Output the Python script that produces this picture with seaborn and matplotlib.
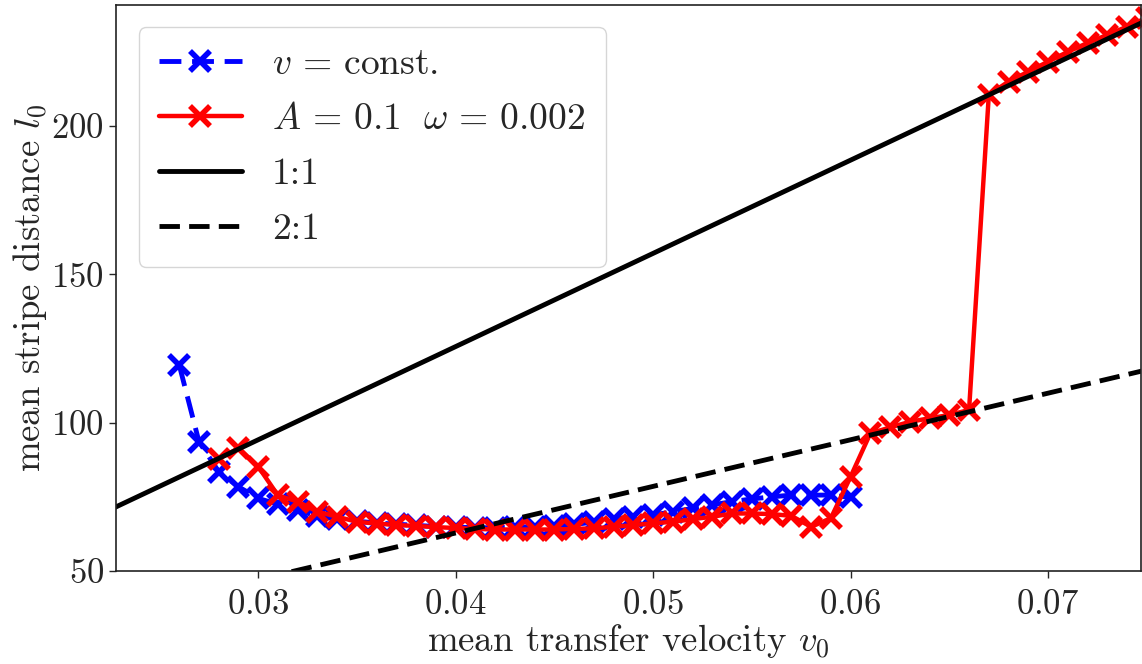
import numpy as np
import pandas as pd
import matplotlib
matplotlib.use("Agg")
import matplotlib.pyplot as plt
import seaborn as sns

# constant transfer velocity
v_const = [0.026, 0.027, 0.028, 0.029, 0.030, 0.031, 0.032, 0.033, 0.034, 0.035,
           0.036, 0.037, 0.038, 0.039, 0.040, 0.041, 0.042, 0.043, 0.044, 0.045,
           0.046, 0.047, 0.048, 0.049, 0.050, 0.051, 0.052, 0.053, 0.054, 0.055,
           0.056, 0.057, 0.058, 0.059, 0.060]
l_const = [119.5, 93.6, 83.5, 78.4, 74.5, 72.5, 70.5, 68.5, 67.5, 66.8,
           66.2, 65.8, 65.4, 65.0, 64.8, 64.6, 64.6, 64.8, 65.0, 65.3,
           65.7, 66.5, 67.5, 68.2, 68.9, 70.0, 71.1, 72.3, 73.4, 74.3,
           75.0, 75.6, 75.6, 75.6, 74.8]

# oscillating transfer velocity, A = 0.1, omega = 0.002
v_osc = [0.028, 0.029, 0.030, 0.031, 0.032, 0.033, 0.034, 0.035, 0.036, 0.037,
         0.038, 0.039, 0.040, 0.041, 0.042, 0.043, 0.044, 0.045, 0.046, 0.047,
         0.048, 0.049, 0.050, 0.051, 0.052, 0.053, 0.054, 0.055, 0.056, 0.057,
         0.058, 0.059, 0.060, 0.061, 0.062, 0.063, 0.064, 0.065, 0.066, 0.067,
         0.068, 0.069, 0.070, 0.071, 0.072, 0.073, 0.074, 0.075]
l_osc = [87.8, 91.4, 85.2, 75.5, 73.4, 70.0, 68.3, 66.6, 66.0, 65.5,
         65.2, 64.8, 64.5, 64.2, 64.0, 64.0, 64.0, 64.0, 64.2, 64.4,
         64.9, 65.5, 66.1, 66.6, 67.5, 68.3, 69.4, 69.4, 69.2, 68.6,
         64.9, 67.8, 81.8, 96.4, 98.4, 100.3, 101.5, 102.6, 104.3, 210.5,
         215.0, 218.3, 221.7, 225.0, 228.0, 230.7, 233.5, 236.5]

# locking reference lines (endpoints)
v_ref = [0.020, 0.080]
l_ref_11 = [62.83, 251.33]
l_ref_21 = [31.42, 125.66]

yticks = [50, 100, 150, 200]
xticks = [0.03, 0.04, 0.05, 0.06, 0.07]

sns.set_style("ticks")
plt.rcParams.update({
    "font.family": "serif",
    "font.serif": ["cmr10"],
    "mathtext.fontset": "cm",
    "axes.formatter.use_mathtext": True,
    "axes.edgecolor": "#222222",
    "axes.linewidth": 1.2,
})

fig, ax = plt.subplots(figsize=(11.42, 6.64), dpi=100)
fig.subplots_adjust(left=0.1016, right=0.999, bottom=0.140, top=0.9925)

series = [
    (pd.DataFrame({"v": v_const, "l": l_const}), r"$v\,=\,\mathrm{const.}$",
     dict(color="blue", lw=3.5, ls=(0, (4.5, 2.2)), marker="x", ms=14, mew=4)),
    (pd.DataFrame({"v": v_osc, "l": l_osc}), r"$A\,=\,0.1\ \ \omega\,=\,0.002$",
     dict(color="red", lw=3.2, ls="-", marker="x", ms=14, mew=4)),
    (pd.DataFrame({"v": v_ref, "l": l_ref_11}), "1:1",
     dict(color="black", lw=3.5, ls="-", marker="")),
    (pd.DataFrame({"v": v_ref, "l": l_ref_21}), "2:1",
     dict(color="black", lw=3.5, ls=(0, (4.2, 1.9)), marker="")),
]

for df, label, style in series:
    n_before = len(ax.lines)
    sns.lineplot(data=df, x="v", y="l", ax=ax, label=label, sort=False,
                 errorbar=None)
    line = ax.lines[n_before]
    line.set_color(style["color"])
    line.set_linewidth(style["lw"])
    line.set_linestyle(style["ls"])
    line.set_marker(style["marker"])
    if style["marker"]:
        line.set_markersize(style["ms"])
        line.set_markeredgewidth(style["mew"])
        line.set_markeredgecolor(style["color"])

ax.set_xlim(0.0228, 0.0747)
ax.set_ylim(50, 240.8)
ax.set_xticks(xticks)
ax.set_yticks(yticks)
ax.tick_params(labelsize=25, length=5, width=1.0)
ax.tick_params(axis="x", pad=8)
ax.set_xlabel(r"mean transfer velocity $v_0$", fontsize=26.5, labelpad=1)
ax.set_ylabel(r"mean stripe distance $l_0$", fontsize=26.5, labelpad=2)

handles, labels = ax.get_legend_handles_labels()
ax.legend(handles, labels, loc="upper left", fontsize=27, handlelength=2.2,
          frameon=True, borderpad=0.55, labelspacing=0.58,
          borderaxespad=0.6)

fig.savefig("out.png", dpi=100)
